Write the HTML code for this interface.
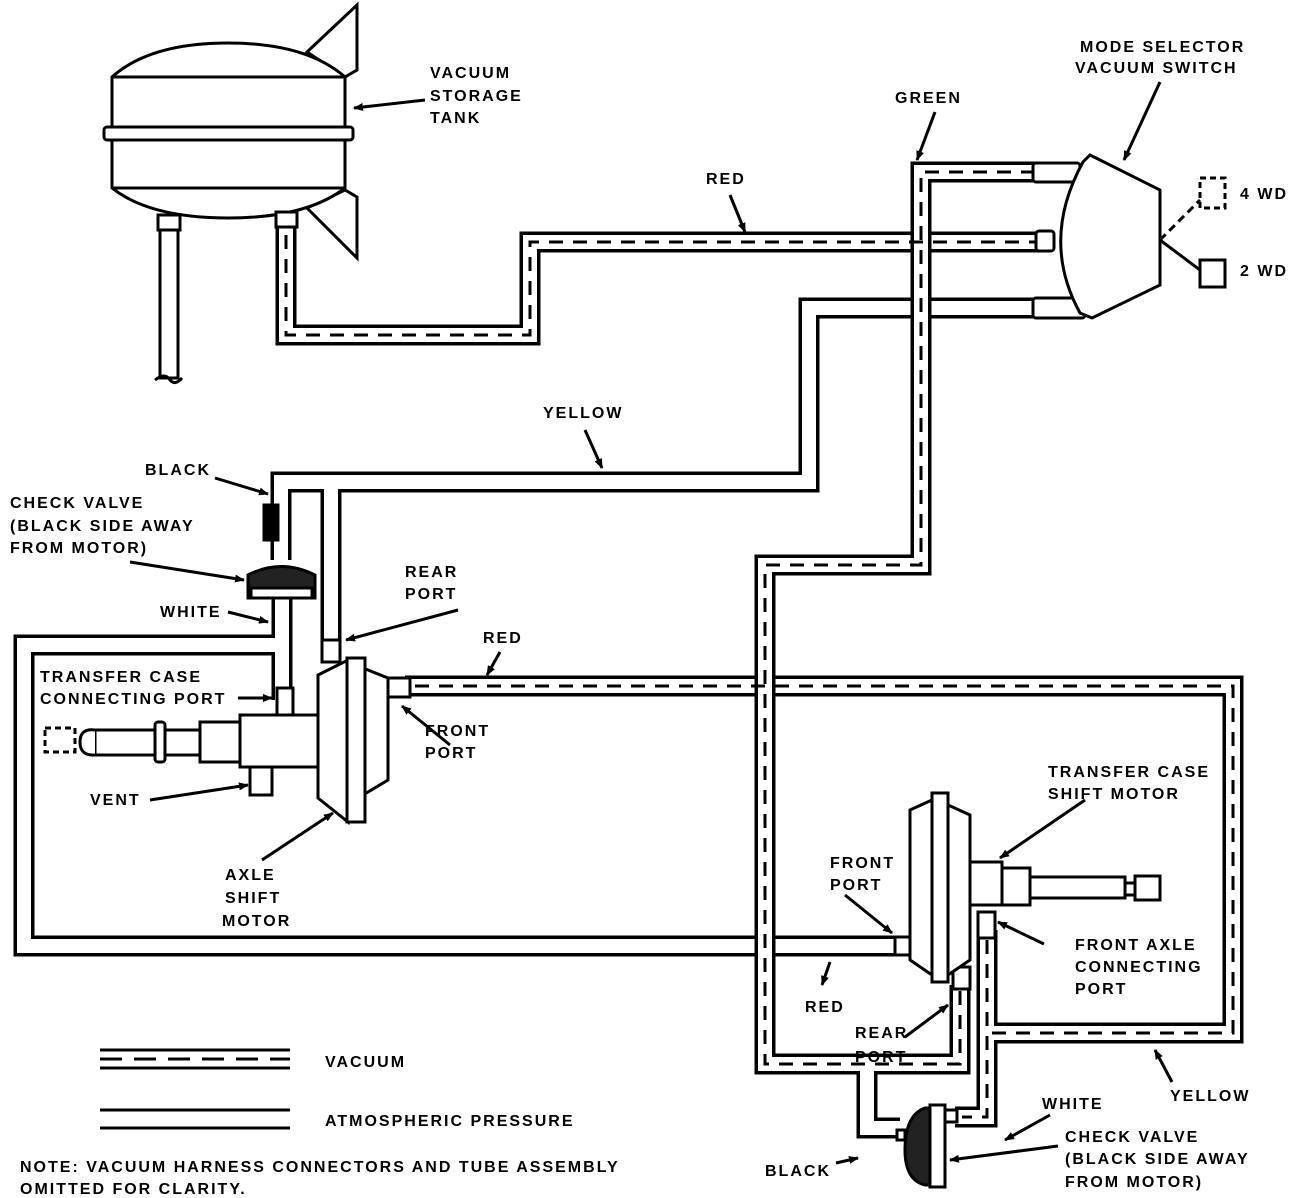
<!DOCTYPE html>
<html><head><meta charset="utf-8"><style>
html,body{margin:0;padding:0;background:#fff}
svg{display:block}
text{font-family:"Liberation Sans",sans-serif;font-weight:bold;font-size:16px;letter-spacing:2px;fill:#000}
</style></head><body>
<svg width="1312" height="1198" viewBox="0 0 1312 1198" xmlns="http://www.w3.org/2000/svg">
<defs>
<marker id="ah" markerWidth="10" markerHeight="8" refX="9" refY="4" orient="auto" markerUnits="userSpaceOnUse">
<path d="M0,0 L10,4 L0,8 Z" fill="#000"/></marker>
</defs>
<g fill="none" stroke-linejoin="miter" stroke-linecap="butt">
<g stroke="#000" stroke-width="21">
<path d="M286,225 V335 H530 V242 H1040"/>
<path d="M1040,308 H809 V482 H281 V560"/>
<path d="M331,482 V645"/>
<path d="M282,598 V700"/>
<path d="M282,645 H24 V946 H895"/>
<path d="M405,686 H1233 V1033 H987"/>
<path d="M987,930 V1117 H955"/>
</g>
<g stroke="#fff" stroke-width="14">
<path d="M286,225 V335 H530 V242 H1040"/>
<path d="M1040,308 H809 V482 H281 V560"/>
<path d="M331,482 V645"/>
<path d="M282,598 V700"/>
<path d="M282,645 H24 V946 H895"/>
<path d="M405,686 H1233 V1033 H987"/>
<path d="M987,930 V1117 H955"/>
</g>
<g stroke="#000" stroke-width="21">
<path d="M1040,172 H921 V565 H765 V1064 H960 V985"/>
<path d="M867,1064 V1128 H900"/>
</g>
<g stroke="#fff" stroke-width="14">
<path d="M1040,172 H921 V565 H765 V1064 H960 V985"/>
<path d="M867,1064 V1128 H900"/>
</g>
<g stroke="#000" stroke-width="3" stroke-dasharray="14 10">
<path d="M286,235 V335 H530 V242 H1035"/>
<path d="M1035,172 H921 V565 H765 V1064 H960 V990"/>
<path d="M415,686 H1233 V1033 H987"/>
<path d="M987,940 V1117 H962"/>
</g>
</g>

<g stroke="#000" stroke-width="3" fill="#fff">
<path d="M307,52 L357,5 L357,70 L345,77 Z"/>
<path d="M307,208 L345,190 L357,197 L357,258 Z"/>
<rect x="160" y="228" width="18" height="150"/>
<path d="M112,77 Q150,43 228,43 Q306,43 345,77 V188 Q306,218 228,218 Q150,218 112,188 Z"/>
<line x1="112" y1="77" x2="345" y2="77"/>
<line x1="112" y1="188" x2="345" y2="188"/>
<rect x="104" y="127" width="249" height="13" rx="3"/>
<rect x="158" y="215" width="22" height="15"/>
<rect x="276" y="212" width="21" height="15"/>
<path d="M155,380 Q165,372 170,380 Q175,386 182,378" fill="none"/>
</g>

<g stroke="#000" stroke-width="3" fill="#fff">
<rect x="1033" y="163" width="47" height="19" rx="3"/>
<rect x="1033" y="298" width="52" height="20" rx="3"/>
<rect x="1036" y="231" width="18" height="20" rx="3"/>
<path d="M1090,155 L1160,190 L1160,285 L1092,318 L1080,313 Q1040,240 1083,162 Z"/>
<rect x="1200" y="178" width="25" height="30" stroke-dasharray="6 4"/>
<rect x="1200" y="260" width="25" height="27"/>
<line x1="1160" y1="240" x2="1200" y2="200" stroke-dasharray="8 5"/>
<line x1="1160" y1="240" x2="1200" y2="270"/>
</g>

<g stroke="#000" stroke-width="3" fill="#fff">
<rect x="264" y="505" width="14" height="35" fill="#000"/>
<path d="M248,598 L248,575 Q281,558 315,575 L315,598 Z" fill="#222"/>
<rect x="251" y="588" width="61" height="10" fill="#fff"/>
<rect x="277" y="688" width="16" height="28"/>
<rect x="322" y="640" width="18" height="22"/>
<rect x="250" y="765" width="22" height="30"/>
<rect x="240" y="715" width="78" height="52"/>
<rect x="200" y="722" width="40" height="40"/>
<rect x="95" y="730" width="105" height="25"/>
<rect x="155" y="722" width="10" height="40" rx="3"/>
<path d="M95,730 Q80,728 80,742 Q80,756 95,755"/>
<rect x="45" y="728" width="30" height="24" stroke-dasharray="6 4" fill="none"/>
<path d="M318,675 L348,660 L348,822 L318,798 Z"/>
<path d="M363,668 L388,678 L388,780 L363,795 Z"/>
<rect x="347" y="658" width="18" height="164"/>
<rect x="388" y="678" width="22" height="19"/>
</g>

<g stroke="#000" stroke-width="3" fill="#fff">
<rect x="978" y="912" width="17" height="26"/>
<rect x="953" y="967" width="17" height="22"/>
<rect x="895" y="937" width="15" height="18"/>
<path d="M910,810 L932,800 L932,975 L910,960 Z"/>
<path d="M948,805 L970,815 L970,960 L948,975 Z"/>
<rect x="932" y="793" width="16" height="189"/>
<rect x="970" y="862" width="32" height="43"/>
<rect x="1002" y="868" width="28" height="37"/>
<rect x="1030" y="877" width="95" height="21"/>
<rect x="1125" y="883" width="10" height="12"/>
<rect x="1135" y="876" width="25" height="24"/>
<path d="M905,1150 Q905,1115 925,1108 L935,1108 L935,1185 L925,1185 Q905,1180 905,1150 Z" fill="#222"/>
<rect x="930" y="1105" width="15" height="82"/>
<rect x="897" y="1130" width="8" height="10"/>
<rect x="945" y="1110" width="12" height="12"/>
</g>

<g stroke="#000" stroke-width="3">
<line x1="100" y1="1050" x2="290" y2="1050"/>
<line x1="100" y1="1068" x2="290" y2="1068"/>
<line x1="100" y1="1059" x2="290" y2="1059" stroke-dasharray="22 12"/>
<line x1="100" y1="1110" x2="290" y2="1110"/>
<line x1="100" y1="1128" x2="290" y2="1128"/>
</g>

<g stroke="#000" stroke-width="3" marker-end="url(#ah)">
<line x1="425" y1="100" x2="354" y2="108"/>
<line x1="1160" y1="82" x2="1124" y2="160"/>
<line x1="935" y1="112" x2="917" y2="160"/>
<line x1="730" y1="195" x2="745" y2="232"/>
<line x1="585" y1="430" x2="602" y2="468"/>
<line x1="215" y1="478" x2="268" y2="494"/>
<line x1="130" y1="562" x2="244" y2="580"/>
<line x1="228" y1="612" x2="268" y2="622"/>
<line x1="458" y1="610" x2="346" y2="640"/>
<line x1="500" y1="652" x2="487" y2="675"/>
<line x1="238" y1="698" x2="272" y2="698"/>
<line x1="450" y1="745" x2="402" y2="706"/>
<line x1="150" y1="800" x2="248" y2="785"/>
<line x1="262" y1="860" x2="333" y2="813"/>
<line x1="1085" y1="800" x2="1000" y2="858"/>
<line x1="845" y1="895" x2="892" y2="933"/>
<line x1="1044" y1="944" x2="998" y2="922"/>
<line x1="830" y1="962" x2="822" y2="985"/>
<line x1="905" y1="1037" x2="948" y2="1005"/>
<line x1="1172" y1="1082" x2="1155" y2="1050"/>
<line x1="1050" y1="1115" x2="1005" y2="1140"/>
<line x1="1058" y1="1146" x2="950" y2="1160"/>
<line x1="836" y1="1163" x2="858" y2="1158"/>
</g>

<text x="430" y="78">VACUUM</text>
<text x="430" y="101">STORAGE</text>
<text x="430" y="123">TANK</text>
<text x="1080" y="52">MODE SELECTOR</text>
<text x="1075" y="73">VACUUM SWITCH</text>
<text x="895" y="103">GREEN</text>
<text x="706" y="184">RED</text>
<text x="1240" y="199">4 WD</text>
<text x="1240" y="276">2 WD</text>
<text x="543" y="418">YELLOW</text>
<text x="145" y="475">BLACK</text>
<text x="10" y="508">CHECK VALVE</text>
<text x="10" y="531">(BLACK SIDE AWAY</text>
<text x="10" y="553">FROM MOTOR)</text>
<text x="160" y="617">WHITE</text>
<text x="405" y="577">REAR</text>
<text x="405" y="599">PORT</text>
<text x="483" y="643">RED</text>
<text x="40" y="682">TRANSFER CASE</text>
<text x="40" y="704">CONNECTING PORT</text>
<text x="425" y="736">FRONT</text>
<text x="425" y="758">PORT</text>
<text x="90" y="805">VENT</text>
<text x="225" y="880">AXLE</text>
<text x="225" y="903">SHIFT</text>
<text x="222" y="926">MOTOR</text>
<text x="1048" y="777">TRANSFER CASE</text>
<text x="1048" y="799">SHIFT MOTOR</text>
<text x="830" y="868">FRONT</text>
<text x="830" y="890">PORT</text>
<text x="1075" y="950">FRONT AXLE</text>
<text x="1075" y="972">CONNECTING</text>
<text x="1075" y="994">PORT</text>
<text x="805" y="1012">RED</text>
<text x="855" y="1038">REAR</text>
<text x="855" y="1062">PORT</text>
<text x="1170" y="1101">YELLOW</text>
<text x="1042" y="1109">WHITE</text>
<text x="1065" y="1142">CHECK VALVE</text>
<text x="1065" y="1164">(BLACK SIDE AWAY</text>
<text x="1065" y="1187">FROM MOTOR)</text>
<text x="765" y="1176">BLACK</text>
<text x="325" y="1067">VACUUM</text>
<text x="325" y="1126">ATMOSPHERIC PRESSURE</text>
<text x="20" y="1172">NOTE: VACUUM HARNESS CONNECTORS AND TUBE ASSEMBLY</text>
<text x="20" y="1194">OMITTED FOR CLARITY.</text>
</svg>
</body></html>
